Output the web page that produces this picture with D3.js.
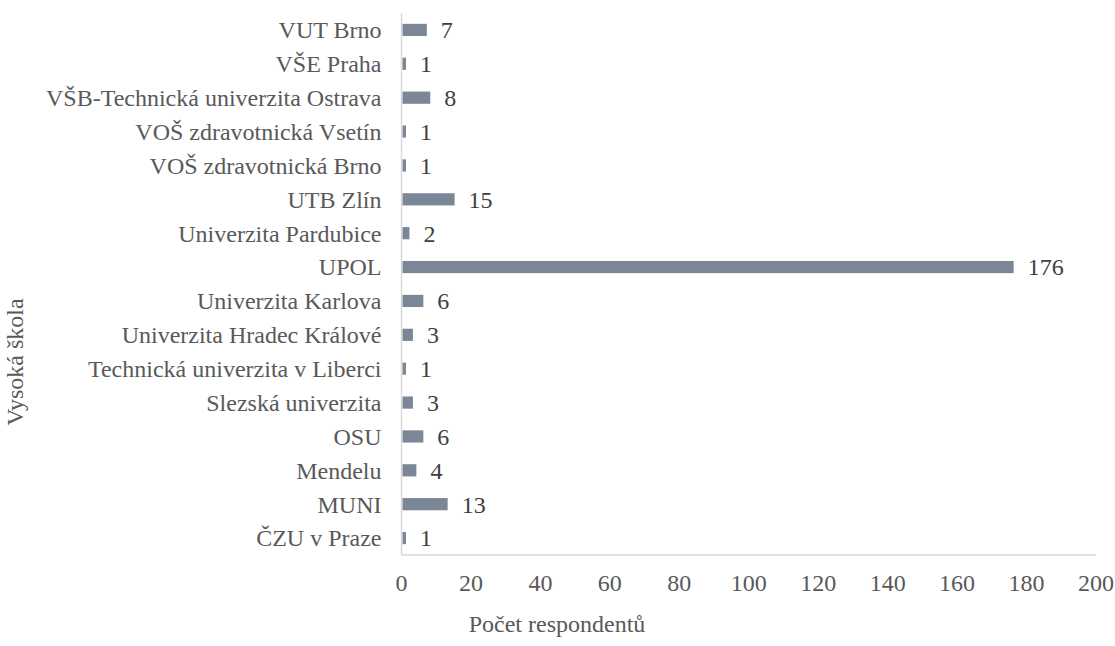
<!DOCTYPE html>
<html>
<head>
<meta charset="utf-8">
<script src="https://cdn.jsdelivr.net/npm/d3@7"></script>
<style>
  body { margin: 0; background: #fff; }
</style>
</head>
<body>
<div id="chart"></div>
<script>
const schools = [
  "VUT Brno", "VŠE Praha", "VŠB-Technická univerzita Ostrava", "VOŠ zdravotnická Vsetín",
  "VOŠ zdravotnická Brno", "UTB Zlín", "Univerzita Pardubice", "UPOL", "Univerzita Karlova",
  "Univerzita Hradec Králové", "Technická univerzita v Liberci", "Slezská univerzita",
  "OSU", "Mendelu", "MUNI", "ČZU v Praze"
];
const counts = [7, 1, 8, 1, 1, 15, 2, 176, 6, 3, 1, 3, 6, 4, 13, 1];
const xTicks = [0, 20, 40, 60, 80, 100, 120, 140, 160, 180, 200];

const W = 1115, H = 646;
const m = { top: 13, right: 19, bottom: 91, left: 401.5 };
const fs = "24px";
const FONT = "Liberation Serif";

const svg = d3.select("#chart").append("svg")
  .attr("width", W).attr("height", H);

const x = d3.scaleLinear().domain([0, 200]).range([m.left, W - m.right]);
const y = d3.scaleBand().domain(schools).range([m.top, H - m.bottom])
  .paddingInner(0.64).paddingOuter(0.32);

// axis lines
svg.append("line")
  .attr("x1", x(0)).attr("x2", x(0))
  .attr("y1", m.top).attr("y2", H - m.bottom)
  .attr("stroke", "#d9d9d9").attr("stroke-width", 1.5);
svg.append("line")
  .attr("x1", x(0)).attr("x2", x(200))
  .attr("y1", H - m.bottom).attr("y2", H - m.bottom)
  .attr("stroke", "#d9d9d9").attr("stroke-width", 1.5);

// bars
svg.selectAll(".bar").data(counts).enter().append("rect")
  .attr("class", "bar")
  .attr("x", x(0) + 1)
  .attr("y", (d, i) => y(schools[i]))
  .attr("width", d => x(d) - x(0))
  .attr("height", y.bandwidth())
  .attr("fill", "#7b8796");

function label(sel) {
  return sel.style("font-family", FONT).style("font-size", fs);
}

// value labels
svg.selectAll(".val").data(counts).enter().append("text")
  .attr("class", "val")
  .attr("x", d => x(d) + 15)
  .attr("y", (d, i) => y(schools[i]) + y.bandwidth() / 2)
  .attr("dy", "0.35em")
  .attr("fill", "#404040")
  .call(label)
  .text(d => d);

// category labels
svg.selectAll(".cat").data(schools).enter().append("text")
  .attr("class", "cat")
  .attr("x", x(0) - 20)
  .attr("y", d => y(d) + y.bandwidth() / 2)
  .attr("dy", "0.35em")
  .attr("text-anchor", "end")
  .attr("fill", "#595959")
  .call(label)
  .text(d => d);

// x tick labels
svg.selectAll(".tick").data(xTicks).enter().append("text")
  .attr("class", "tick")
  .attr("x", d => x(d))
  .attr("y", 591)
  .attr("text-anchor", "middle")
  .attr("fill", "#595959")
  .call(label)
  .text(d => d);

// axis titles
svg.append("text")
  .attr("x", 557).attr("y", 632)
  .attr("text-anchor", "middle")
  .attr("fill", "#595959")
  .call(label)
  .text("Počet respondentů");

svg.append("text")
  .attr("transform", "translate(23,362) rotate(-90)")
  .attr("text-anchor", "middle")
  .attr("fill", "#595959")
  .call(label)
  .text("Vysoká škola");
</script>
</body>
</html>
